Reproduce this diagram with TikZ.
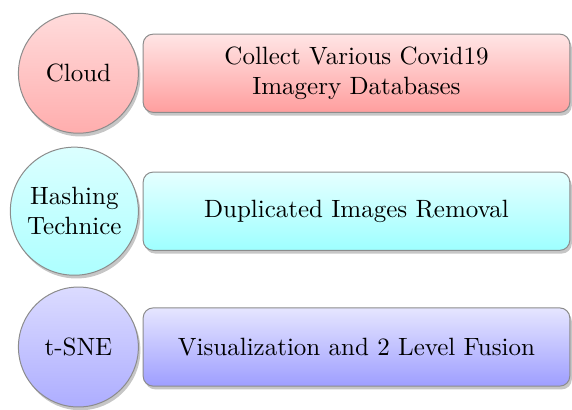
\documentclass[tikz,border=0pt]{standalone}
\usepackage{tikz}
\usetikzlibrary{positioning,shadows}

\tikzset{
    descbox/.style={draw=black!45, rounded corners=4pt, minimum width=6cm, minimum height=1.1cm, align=center,
        drop shadow={shadow xshift=.8pt, shadow yshift=-1.3pt, opacity=.45}},
    itemcirc/.style={circle, draw=black!45, minimum size=48pt, align=center,
        drop shadow={shadow xshift=.8pt, shadow yshift=-1.3pt, opacity=.45}}
}

\begin{document}
\begin{tikzpicture}
        \useasboundingbox (0,0) rectangle (8.044,-5.752);
        % descriptions on the right, item circles on the left
        \foreach \n/\y/\col/\short/\long in {1/-1.03/red/Cloud/{Collect Various Covid19\\Imagery Databases}, 2/-2.97/cyan/{Hashing\\Technice}/{Duplicated Images Removal}, 3/-4.88/blue/t-SNE/{Visualization and 2 Level Fusion}}
        {
            \node[descbox, top color=\col!10, bottom color=\col!38] (desc\n) at (5.013,\y) {\long};
            \node[itemcirc, top color=\col!14, bottom color=\col!32, left=1.5pt of desc\n] (item\n) {\short};
        }
    \end{tikzpicture}
\end{document}
